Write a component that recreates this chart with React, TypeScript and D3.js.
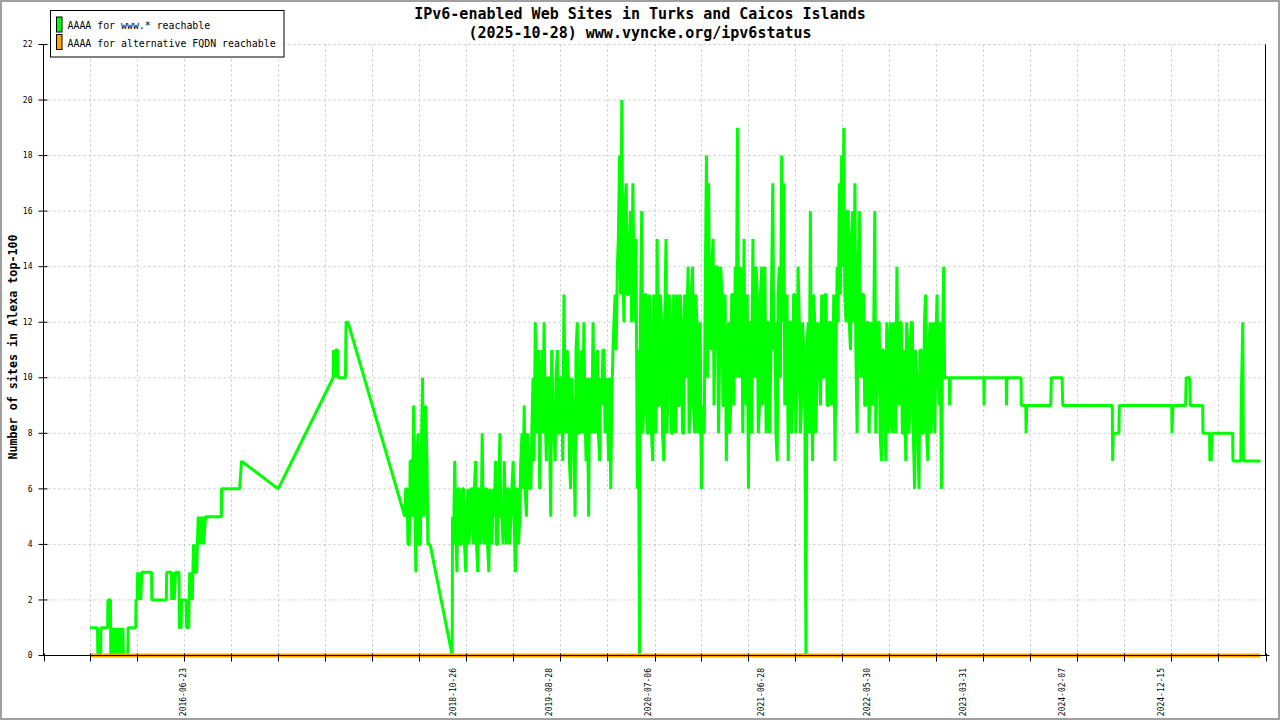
import React from 'react';
import * as d3 from 'd3';

const titleLines = [
  'IPv6-enabled Web Sites in Turks and Caicos Islands',
  '(2025-10-28) www.vyncke.org/ipv6status',
];
const yTitle = 'Number of sites in Alexa top-100';
const legendLabels = ['AAAA for www.* reachable', 'AAAA for alternative FQDN reachable'];
const seriesColors = ['#00ff00', '#ffa500'];

const axisDomain = ['2015-04-11', '2025-11-13'];
const xTickIntervals = 26;
const xLabelDates = [
  '2016-06-23', '2018-10-26', '2019-08-28', '2020-07-06', '2021-06-28',
  '2022-05-30', '2023-03-31', '2024-02-07', '2024-12-15',
];
const yTicks = [0, 2, 4, 6, 8, 10, 12, 14, 16, 18, 20, 22];

// AAAA for www.* : sparse daily readings before the busy period
const wwwEarly: [string, number][] = [
  ['2015-09-05', 1], ['2015-09-29', 1], ['2015-09-30', 0], ['2015-10-09', 0],
  ['2015-10-10', 1], ['2015-10-31', 1], ['2015-11-01', 2], ['2015-11-09', 2],
  ['2015-11-10', 0], ['2015-11-12', 1], ['2015-11-14', 0], ['2015-11-16', 1],
  ['2015-11-18', 0], ['2015-11-20', 1], ['2015-11-23', 0], ['2015-11-25', 1],
  ['2015-11-28', 0], ['2015-12-01', 1], ['2015-12-03', 0], ['2015-12-06', 1],
  ['2015-12-09', 0], ['2015-12-12', 1], ['2015-12-15', 0], ['2015-12-18', 1],
  ['2015-12-20', 0], ['2016-01-03', 0],
  ['2016-01-04', 1], ['2016-01-28', 1], ['2016-01-29', 2], ['2016-02-02', 2],
  ['2016-02-03', 3], ['2016-02-05', 2], ['2016-02-07', 3], ['2016-02-09', 2],
  ['2016-02-11', 3], ['2016-02-13', 2], ['2016-02-16', 3], ['2016-03-18', 3],
  ['2016-03-19', 2], ['2016-05-04', 2], ['2016-05-05', 3], ['2016-05-20', 3],
  ['2016-05-21', 2], ['2016-05-23', 3], ['2016-05-25', 2], ['2016-05-27', 3],
  ['2016-05-29', 2], ['2016-06-02', 3], ['2016-06-13', 3], ['2016-06-14', 1],
  ['2016-06-20', 1], ['2016-06-21', 2], ['2016-07-06', 2], ['2016-07-07', 1],
  ['2016-07-14', 1], ['2016-07-15', 2], ['2016-07-17', 3], ['2016-07-19', 2],
  ['2016-07-22', 3], ['2016-07-25', 2], ['2016-07-27', 3], ['2016-07-29', 4],
  ['2016-08-03', 3], ['2016-08-08', 3], ['2016-08-10', 4], ['2016-08-13', 5],
  ['2016-08-16', 4], ['2016-08-20', 5], ['2016-08-23', 4], ['2016-08-26', 5],
  ['2016-08-30', 4], ['2016-09-05', 5], ['2016-10-25', 5], ['2016-10-26', 6],
  ['2016-12-22', 6], ['2016-12-28', 7], ['2017-04-23', 6], ['2017-10-14', 10],
  ['2017-10-15', 11], ['2017-10-19', 10], ['2017-10-22', 11], ['2017-10-28', 11],
  ['2017-10-29', 10], ['2017-11-22', 10], ['2017-11-24', 12], ['2017-11-30', 12],
  ['2018-10-26', 0],
];

// weekly readings in the busy years: one at the start of each week...
const wk2018a = [5, 6, 4, 7, 9, 3, 8, 4, 10, 6, 7, 4];
const wk2018b = [5, 7, 3, 6, 4, 6, 3, 6, 5, 6];
const wk2019 = [
  4, 7, 3, 6, 8, 4, 6, 3, 5, 6, 7, 4, 8, 5, 7, 4, 6, 5, 7, 3, 6, 5, 8, 9, 5, 7,
  6, 10, 12, 8, 6, 11, 12, 7, 10, 5, 9, 7, 11, 8, 10, 13, 8, 10, 6, 9, 5, 12, 8, 11, 12, 7,
];
const wk2020 = [
  5, 9, 12, 8, 11, 7, 9, 11, 10, 7, 6, 11, 13, 14, 18, 20, 12, 17, 13, 16, 17, 12, 6, 0, 16, 9,
  13, 8, 12, 7, 11, 15, 9, 12, 7, 15, 10, 12, 8, 11, 13, 9, 12, 8, 10, 14, 9, 14, 8, 12, 9, 6,
];
const wk2021 = [
  8, 18, 17, 11, 15, 12, 14, 11, 13, 9, 7, 12, 9, 13, 14, 19, 10, 13, 15, 9, 6, 12, 15, 10, 13, 9,
  14, 11, 8, 12, 10, 17, 12, 7, 14, 18, 17, 10, 7, 12, 9, 13, 10, 12, 9, 11, 0, 12, 16, 7, 12, 10,
];
const wk2022 = [
  11, 13, 10, 13, 9, 12, 10, 7, 14, 17, 18, 19, 12, 16, 11, 16, 17, 8, 16, 10, 13, 9, 12, 11, 9, 16,
  10, 12, 7, 11, 7, 10, 12, 8, 11, 14, 9, 12, 8, 7, 11, 9, 12, 6, 10, 6, 11, 8, 13, 7, 12, 9,
];
const wk2023 = [8, 13, 9, 6, 14];

// ...and one in the middle of each week
const mid2018a = [6, 4, 7, 5, 6, 7, 4, 7, 5, 9, 4, 4];
const mid2018b = [4, 5, 6, 4, 6, 4, 5, 4, 6, 4];
const mid2019 = [
  6, 4, 6, 4, 5, 6, 4, 6, 4, 5, 4, 6, 5, 4, 5, 6, 4, 6, 5, 6, 4, 7, 6, 6, 8, 6,
  8, 7, 9, 11, 9, 8, 9, 10, 8, 11, 8, 10, 8, 10, 7, 9, 11, 7, 10, 8, 11, 8, 10, 8, 9, 10,
];
const mid2020 = [
  10, 8, 9, 10, 8, 10, 11, 8, 9, 10, 9, 12, 11, 15, 13, 14, 16, 13, 15, 12, 14, 15, 11, 12, 8, 13,
  8, 13, 8, 13, 8, 9, 13, 8, 12, 8, 13, 8, 13, 8, 9, 13, 8, 13, 12, 8, 13, 9, 13, 8, 12, 9,
];
const mid2021 = [
  13, 10, 12, 14, 9, 14, 8, 14, 9, 13, 11, 8, 13, 9, 10, 12, 14, 8, 10, 13, 12, 8, 11, 14, 8, 13,
  9, 14, 12, 8, 13, 11, 8, 13, 10, 12, 9, 13, 12, 8, 13, 8, 14, 8, 12, 10, 11, 8, 10, 13, 8, 12,
];
const mid2022 = [
  9, 10, 13, 9, 12, 9, 13, 11, 12, 13, 14, 13, 16, 12, 15, 12, 11, 14, 11, 13, 9, 12, 8, 12, 11, 8,
  12, 8, 11, 9, 12, 8, 9, 12, 8, 10, 12, 8, 11, 12, 8, 12, 8, 11, 8, 11, 8, 12, 8, 11, 8, 12,
];
const mid2023 = [11, 10, 12, 11, 10];

const weeklyChunks: [string, number[], number[]][] = [
  ['2018-05-29', wk2018a, mid2018a],
  ['2018-10-27', wk2018b, mid2018b],
  ['2019-01-01', wk2019, mid2019],
  ['2020-01-01', wk2020, mid2020],
  ['2021-01-01', wk2021, mid2021],
  ['2022-01-01', wk2022, mid2022],
  ['2023-01-01', wk2023, mid2023],
];

const wwwLate: [string, number][] = [
  ['2023-02-05', 10], ['2023-02-16', 10], ['2023-02-17', 9], ['2023-02-19', 10],
  ['2023-06-05', 10], ['2023-06-06', 9], ['2023-06-07', 10],
  ['2023-08-15', 10], ['2023-08-16', 9], ['2023-08-17', 10],
  ['2023-10-01', 10], ['2023-10-02', 9], ['2023-10-16', 9], ['2023-10-17', 8], ['2023-10-19', 9],
  ['2024-01-03', 9], ['2024-01-05', 10], ['2024-02-08', 10], ['2024-02-10', 9],
  ['2024-07-16', 9], ['2024-07-17', 7], ['2024-07-19', 8], ['2024-08-06', 8], ['2024-08-07', 9],
  ['2025-01-20', 9], ['2025-01-21', 8], ['2025-01-24', 9],
  ['2025-03-05', 9], ['2025-03-07', 10], ['2025-03-18', 10], ['2025-03-20', 9],
  ['2025-04-28', 9], ['2025-04-29', 8],
  ['2025-05-20', 8], ['2025-05-21', 7], ['2025-05-23', 8], ['2025-05-25', 7], ['2025-05-27', 8],
  ['2025-08-01', 8], ['2025-08-02', 7],
  ['2025-08-27', 7], ['2025-08-28', 9], ['2025-09-02', 12], ['2025-09-04', 7],
  ['2025-10-28', 7],
];

// AAAA for alternative FQDN: flat zero over the whole period
const fqdnPoints: [string, number][] = [['2015-09-05', 0], ['2025-10-28', 0]];

const parse = d3.utcParse('%Y-%m-%d');
const FONT = "'DejaVu Sans Mono', 'Liberation Mono', monospace";

type Pt = [Date, number];

function buildWww(): Pt[] {
  const pts: Pt[] = [];
  wwwEarly.forEach(([d, v]) => pts.push([parse(d)!, v]));
  weeklyChunks.forEach(([start, vals, mids]) => {
    const s = parse(start)!;
    vals.forEach((v, i) => {
      pts.push([d3.utcDay.offset(s, i * 7), v]);
      pts.push([d3.utcDay.offset(s, i * 7 + 3), mids[i]]);
    });
  });
  wwwLate.forEach(([d, v]) => pts.push([parse(d)!, v]));
  return pts.sort((a, b) => +a[0] - +b[0]);
}

export default function App() {
  const width = 1280;
  const height = 720;

  const x = d3.scaleUtc().domain(axisDomain.map((d) => parse(d)!)).range([43.5, 1265.5]);
  const y = d3.scaleLinear().domain([0, 22]).range([655.5, 44.5]);

  const [t0, t1] = x.domain().map(Number);
  const xTicks = d3.range(xTickIntervals + 1).map((i) => new Date(t0 + ((t1 - t0) * i) / xTickIntervals));

  const line = d3
    .line<Pt>()
    .x((d) => x(d[0]))
    .y((d) => y(d[1]));

  const www = buildWww();
  const fqdn: Pt[] = fqdnPoints.map(([d, v]) => [parse(d)!, v]);

  const [xl, xr] = x.range();
  const [yb, yt] = y.range();

  return (
    <>
      <style>{'body{margin:0}'}</style>
      <svg width={width} height={height} style={{ display: 'block' }}>
        <rect x={0} y={0} width={width} height={height} fill="#ffffff" />

        {/* grid */}
        <g stroke="#c4c4c4" strokeWidth={1} strokeDasharray="2,3">
          {yTicks.slice(1).map((t) => (
            <line key={'gy' + t} x1={xl} x2={xr} y1={y(t)} y2={y(t)} />
          ))}
          {xTicks.slice(1, -1).map((t, i) => (
            <line key={'gx' + i} x1={Math.round(x(t)) + 0.5} x2={Math.round(x(t)) + 0.5} y1={yt} y2={yb} />
          ))}
        </g>

        {/* series */}
        <path d={line(www) || ''} fill="none" stroke={seriesColors[0]} strokeWidth={3} strokeLinejoin="bevel" />
        <path d={line(fqdn) || ''} fill="none" stroke={seriesColors[1]} strokeWidth={4} />

        {/* axes */}
        <g stroke="#000" strokeWidth={1}>
          <line x1={xl} x2={xl} y1={yt} y2={yb} />
          <line x1={xr} x2={xr} y1={yt} y2={yb} />
          <line x1={xl} x2={xr} y1={yb} y2={yb} />
          <line x1={xr} x2={xr + 4} y1={yb} y2={yb} />
          {yTicks.map((t) => (
            <line key={'ty' + t} x1={xl - 5} x2={xl + 4} y1={y(t)} y2={y(t)} />
          ))}
          {xTicks.map((t, i) => (
            <line key={'tx' + i} x1={Math.round(x(t)) + 0.5} x2={Math.round(x(t)) + 0.5} y1={yb - 2} y2={yb + 6} />
          ))}
        </g>

        <g fontFamily={FONT} fontSize={8} fill="#000">
          {yTicks.map((t) => (
            <text key={'ly' + t} x={32.5} y={y(t)} dy="0.33em" textAnchor="end">
              {t}
            </text>
          ))}
          {xLabelDates.map((d) => {
            const px = x(parse(d)!) + 3.5;
            return (
              <text key={d} transform={`translate(${px},668) rotate(-90)`} textAnchor="end">
                {d}
              </text>
            );
          })}
        </g>

        {/* titles */}
        <g fontFamily={FONT} fontSize={15} fontWeight="bold" fill="#000" textAnchor="middle">
          <text x={640} y={18.5}>{titleLines[0]}</text>
          <text x={640} y={37.5}>{titleLines[1]}</text>
        </g>
        <text
          transform="translate(17,347) rotate(-90)"
          fontFamily={FONT}
          fontSize={11.7}
          fontWeight="bold"
          textAnchor="middle"
          fill="#000"
        >
          {yTitle}
        </text>

        {/* legend */}
        <g fontFamily={FONT} fontSize={9.9} fill="#000">
          <rect x={50.5} y={10.5} width={233.5} height={46.5} fill="#fff" stroke="#000" />
          {legendLabels.map((lab, i) => (
            <g key={lab}>
              <rect x={56.5} y={17 + i * 17.5} width={5.5} height={15} fill={seriesColors[i]} stroke="#000" />
              <text x={67.5} y={29 + i * 17.5}>{lab}</text>
            </g>
          ))}
        </g>

        <rect x={1} y={1} width={width - 2} height={height - 2} fill="none" stroke="#a0a0a0" strokeWidth={2} />
      </svg>
    </>
  );
}
